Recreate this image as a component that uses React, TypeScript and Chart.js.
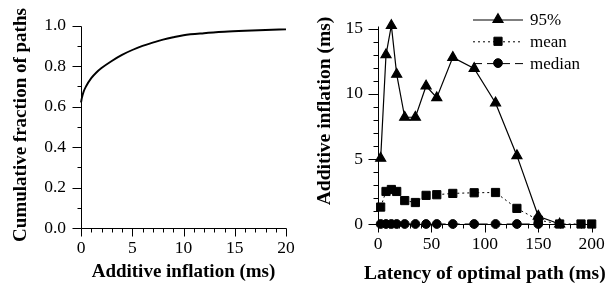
import React, { useEffect, useRef } from 'react';
import { Chart, registerables } from 'chart.js';
import { drawPoint } from 'chart.js/helpers';

Chart.register(...registerables);

const FONT = '"Liberation Serif", "Times New Roman", serif';

// ---- Left chart: CDF of additive inflation ----
const cdfInflation = [0, 0.1, 0.25, 0.5, 1, 1.5, 2, 3, 4, 5, 6, 7, 8, 9, 10, 12, 14, 16, 18, 20];
const cdfFraction = [0.62, 0.645, 0.672, 0.7, 0.74, 0.768, 0.79, 0.825, 0.855, 0.879, 0.899, 0.915, 0.93, 0.942, 0.952, 0.962, 0.969, 0.974, 0.978, 0.981];

// ---- Right chart: inflation vs latency of optimal path ----
const latency = [2.5, 7.5, 12.5, 17.5, 25, 35, 45, 55, 70, 90, 110, 130, 150, 170, 190, 200];
const p95 = [5.05, 13.0, 15.25, 11.5, 8.2, 8.2, 10.6, 9.7, 12.8, 11.95, 9.3, 5.25, 0.6, 0];
const meanVals = [1.3, 2.5, 2.65, 2.5, 1.8, 1.65, 2.2, 2.25, 2.35, 2.4, 2.42, 1.2, 0.3, 0, 0, 0];
const medianVals = [0, 0, 0, 0, 0, 0, 0, 0, 0, 0, 0, 0, 0];

const leftXTitle = 'Additive inflation (ms)';
const leftYTitle = 'Cumulative fraction of paths';
const rightXTitle = 'Latency of optimal path (ms)';
const rightYTitle = 'Additive inflation (ms)';

const toPoints = (xs: number[], ys: number[]) => ys.map((y, i) => ({ x: xs[i], y }));

function ticksFrom(min: number, max: number, step: number) {
  const out: number[] = [];
  for (let v = min; v <= max + 1e-9; v += step) out.push(Math.round(v * 1000) / 1000);
  return out;
}

const crisp = (p: number) => Math.round(p) + 0.5;

const axesPlugin = {
  id: 'paperAxes',
  beforeDatasetsDraw(chart: any, _args: any, opts: any) {
    const { ctx } = chart;
    const xs = chart.scales.x;
    const ys = chart.scales.y;
    const xAxisY = crisp(ys.getPixelForValue(ys.min));
    const yAxisX = crisp(xs.getPixelForValue(xs.min));
    ctx.save();
    ctx.strokeStyle = '#000';
    ctx.lineWidth = 1;
    ctx.beginPath();
    ctx.moveTo(yAxisX, crisp(ys.getPixelForValue(ys.max)));
    ctx.lineTo(yAxisX, xAxisY);
    ctx.lineTo(crisp(xs.getPixelForValue(xs.max)), xAxisY);
    for (const v of ticksFrom(xs.min, xs.max, opts.xMinor)) {
      const major = Math.abs(v / opts.xMajor - Math.round(v / opts.xMajor)) < 1e-6;
      const px = crisp(xs.getPixelForValue(v));
      ctx.moveTo(px, xAxisY);
      ctx.lineTo(px, xAxisY + (major ? opts.xMajorLen : opts.xMinorLen));
    }
    for (const v of ticksFrom(ys.min, ys.max, opts.yMinor)) {
      const major = Math.abs(v / opts.yMajor - Math.round(v / opts.yMajor)) < 1e-6;
      const py = crisp(ys.getPixelForValue(v));
      ctx.moveTo(yAxisX, py);
      ctx.lineTo(yAxisX - (major ? opts.yMajorLen : opts.yMinorLen), py);
    }
    ctx.stroke();
    ctx.restore();
  },
};

const titlesPlugin = {
  id: 'paperTitles',
  afterDraw(chart: any, _args: any, opts: any) {
    const { ctx, chartArea } = chart;
    ctx.save();
    ctx.fillStyle = '#000';
    ctx.font = `bold ${opts.size}px ${FONT}`;
    ctx.textAlign = 'center';
    ctx.textBaseline = 'alphabetic';
    ctx.fillText(opts.xTitle, (chartArea.left + chartArea.right) / 2, opts.xTitleY);
    ctx.translate(opts.yTitleX, opts.yTitleCY);
    ctx.rotate(-Math.PI / 2);
    ctx.fillText(opts.yTitle, 0, 0);
    ctx.restore();
  },
};

const legendPlugin = {
  id: 'paperLegend',
  afterDraw(chart: any, _args: any, opts: any) {
    if (!opts || !opts.items) return;
    const { ctx } = chart;
    ctx.save();
    opts.items.forEach((label: string, i: number) => {
      const ds = chart.data.datasets.find((d: any) => d.label === label);
      if (!ds) return;
      const y = opts.top + i * opts.rowGap;
      ctx.strokeStyle = '#000';
      ctx.lineWidth = ds.borderWidth || 1;
      ctx.setLineDash(ds.borderDash || []);
      ctx.beginPath();
      ctx.moveTo(opts.lineX0, y + 0.5);
      ctx.lineTo(opts.lineX1, y + 0.5);
      ctx.stroke();
      ctx.setLineDash([]);
      ctx.fillStyle = '#000';
      drawPoint(ctx, { pointStyle: ds.pointStyle, radius: ds.pointRadius, rotation: 0, borderWidth: 1 } as any, (opts.lineX0 + opts.lineX1) / 2, y);
      ctx.fillStyle = '#000';
      ctx.font = `${opts.size}px ${FONT}`;
      ctx.textAlign = 'left';
      ctx.textBaseline = 'middle';
      ctx.fillText(label, opts.textX, y + 1);
    });
    ctx.restore();
  },
};

const tickFont = { family: FONT, size: 17.5 };

export default function App() {
  const leftRef = useRef<HTMLCanvasElement>(null);
  const rightRef = useRef<HTMLCanvasElement>(null);

  useEffect(() => {
    const left = new Chart(leftRef.current as HTMLCanvasElement, {
      type: 'line',
      data: {
        datasets: [
          {
            label: 'CDF',
            data: toPoints(cdfInflation, cdfFraction),
            borderColor: '#000',
            borderWidth: 1.9,
            pointRadius: 0,
            cubicInterpolationMode: 'monotone',
            fill: false,
            clip: false as any,
          },
        ],
      },
      options: {
        animation: false,
        responsive: false,
        devicePixelRatio: 1,
        layout: { padding: { left: 0, right: 21, top: 23, bottom: 0 } },
        plugins: {
          legend: { display: false },
          tooltip: { enabled: false },
          paperAxes: { xMajor: 5, xMinor: 1, yMajor: 0.2, yMinor: 0.1, xMajorLen: 8, xMinorLen: 4, yMajorLen: 9, yMinorLen: 4 },
          paperTitles: { xTitle: leftXTitle, yTitle: leftYTitle, size: 19, xTitleY: 276.5, yTitleX: 26, yTitleCY: 125 },
        } as any,
        scales: {
          x: {
            type: 'linear',
            min: 0,
            max: 20,
            grid: { display: false, drawTicks: false },
            border: { display: false },
            ticks: { stepSize: 5, font: tickFont, color: '#000', padding: 9.5, maxRotation: 0, includeBounds: false },
            afterFit: (s: any) => { s.height = 57; },
          },
          y: {
            type: 'linear',
            min: 0,
            max: 1,
            grid: { display: false, drawTicks: false },
            border: { display: false },
            ticks: { stepSize: 0.2, font: tickFont, color: '#000', padding: 15, callback: (v: any) => Number(v).toFixed(1), includeBounds: false },
            afterFit: (s: any) => { s.width = 81; },
          },
        },
      },
      plugins: [axesPlugin, titlesPlugin],
    } as any);

    const right = new Chart(rightRef.current as HTMLCanvasElement, {
      type: 'line',
      data: {
        datasets: [
          {
            label: 'median',
            data: toPoints(latency, medianVals),
            borderColor: '#000',
            backgroundColor: '#000',
            borderWidth: 1,
            borderDash: [9, 5],
            pointStyle: 'circle',
            pointRadius: 4.4,
            clip: false as any,
          },
          {
            label: 'mean',
            data: toPoints(latency, meanVals),
            borderColor: '#000',
            backgroundColor: '#000',
            borderWidth: 1,
            borderDash: [2, 3],
            pointStyle: 'rect',
            pointRadius: 5.8,
            clip: false as any,
          },
          {
            label: '95%',
            data: toPoints(latency, p95),
            borderColor: '#000',
            backgroundColor: '#000',
            borderWidth: 1.2,
            pointStyle: 'triangle',
            pointRadius: 5.8,
            clip: false as any,
          },
        ],
      },
      options: {
        animation: false,
        responsive: false,
        devicePixelRatio: 1,
        layout: { padding: { left: 0, right: 23.3, top: 10.5, bottom: 0 } },
        plugins: {
          legend: { display: false },
          tooltip: { enabled: false },
          paperAxes: { xMajor: 50, xMinor: 10, yMajor: 5, yMinor: 1, xMajorLen: 8, xMinorLen: 4, yMajorLen: 10, yMinorLen: 5 },
          paperTitles: { xTitle: rightXTitle, yTitle: rightYTitle, size: 19.5, xTitleY: 279, yTitleX: 23, yTitleCY: 111 },
          paperLegend: { items: ['95%', 'mean', 'median'], top: 19.5, rowGap: 21.8, lineX0: 166, lineX1: 216, textX: 223, size: 17 },
        } as any,
        scales: {
          x: {
            type: 'linear',
            min: 0,
            max: 200,
            grid: { display: false, drawTicks: false },
            border: { display: false },
            ticks: { stepSize: 50, font: tickFont, color: '#000', padding: 9.5, maxRotation: 0, includeBounds: false },
            afterFit: (s: any) => { s.height = 61; },
          },
          y: {
            type: 'linear',
            min: 0,
            max: 15.25,
            grid: { display: false, drawTicks: false },
            border: { display: false },
            ticks: { stepSize: 5, font: tickFont, color: '#000', padding: 15, includeBounds: false },
            afterFit: (s: any) => { s.width = 71; },
          },
        },
      },
      plugins: [axesPlugin, titlesPlugin, legendPlugin],
    } as any);

    return () => {
      left.destroy();
      right.destroy();
    };
  }, []);

  return (
    <div style={{ position: 'fixed', left: 0, top: 0, width: 615, height: 285, background: '#fff' }}>
      <canvas ref={leftRef} width={307} height={285} style={{ position: 'absolute', left: 0, top: 0 }} />
      <canvas ref={rightRef} width={308} height={285} style={{ position: 'absolute', left: 307, top: 0 }} />
    </div>
  );
}
